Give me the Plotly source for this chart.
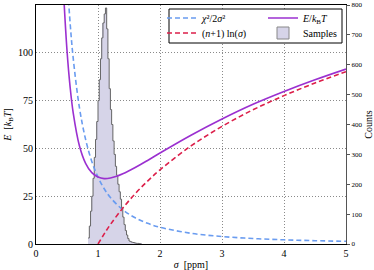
import plotly.graph_objects as go

# ---- data ----
sigma_blue = [0.50, 0.55, 0.60, 0.70, 0.80, 0.90, 1.00, 1.10, 1.20, 1.40, 1.60, 1.80,
              2.00, 2.50, 3.00, 3.50, 4.00, 4.50, 5.00]
chi2_term = [140.0, 115.7, 97.2, 71.4, 54.7, 43.2, 35.0, 28.9, 24.3, 17.9, 13.7, 10.8,
             8.75, 5.6, 3.9, 2.86, 2.19, 1.73, 1.4]

sigma_red = [1.00, 1.10, 1.20, 1.40, 1.60, 1.80, 2.00, 2.50, 3.00, 3.50, 4.00, 4.50, 5.00]
log_term = [0.0, 5.3, 10.2, 18.8, 26.3, 32.9, 38.8, 51.3, 61.5, 70.2, 77.6, 84.2, 90.1]

sigma_E = [0.45, 0.50, 0.55, 0.60, 0.70, 0.80, 0.90, 1.00, 1.10, 1.20, 1.30, 1.40, 1.60,
           1.80, 2.00, 2.50, 3.00, 3.50, 4.00, 4.50, 5.00]
energy = [128.1, 101.2, 82.2, 68.6, 51.4, 42.2, 37.3, 35.0, 34.2, 34.5, 35.4, 36.7, 40.0,
          43.7, 47.6, 56.9, 65.4, 73.1, 79.8, 85.9, 91.5]

bin_edges = [0.84, 0.86, 0.88, 0.90, 0.92, 0.94, 0.96, 0.98, 1.00, 1.02, 1.04, 1.06, 1.08,
             1.10, 1.12, 1.14, 1.16, 1.18, 1.20, 1.22, 1.24, 1.26, 1.28, 1.30, 1.32, 1.34,
             1.36, 1.38, 1.40, 1.42, 1.44, 1.46, 1.48, 1.50, 1.52, 1.54, 1.56, 1.58, 1.60,
             1.62, 1.64, 1.66, 1.68, 1.70]
counts = [20, 60, 110, 160, 220, 290, 350, 410, 480, 550, 620, 690, 740,
          770, 790, 720, 620, 520, 450, 400, 345, 300, 260, 230, 200, 175,
          150, 120, 90, 65, 45, 30, 18, 10, 8, 6, 5, 4, 3,
          2, 2, 1, 1]

xticks = [0, 1, 2, 3, 4, 5]
yticks = [0, 25, 50, 75, 100, 125]
y2ticks = [0, 100, 200, 300, 400, 500, 600, 700, 800]

FONT = "Liberation Serif"
GRID = "#8a8a8a"
HIST_FILL = "#d6d4e8"
HIST_EDGE = "#666666"

fig = go.Figure()

# histogram: filled bars (counts axis) + step outline
widths = [b - a for a, b in zip(bin_edges[:-1], bin_edges[1:])]
fig.add_trace(go.Bar(
    x=bin_edges[:-1], y=counts, width=widths, offset=0, yaxis="y",
    marker=dict(color=HIST_FILL, line=dict(width=0)), showlegend=False,
))
fig.add_trace(go.Scatter(
    x=bin_edges, y=counts + [counts[-1]], yaxis="y", mode="lines",
    line=dict(shape="hv", color=HIST_EDGE, width=1), showlegend=False,
))
# legend entry for the histogram (no drawn data)
fig.add_trace(go.Bar(
    x=[None], y=[None], yaxis="y", name="Samples", legend="legend4", showlegend=True,
    marker=dict(color=HIST_FILL, line=dict(color="#888888", width=1)),
))

fig.add_trace(go.Scatter(
    x=sigma_blue, y=chi2_term, yaxis="y2", mode="lines", name="<i>χ</i>²/2<i>σ</i>²",
    line=dict(color="#6a9cf0", width=1.6, dash="5px,3px", shape="spline"),
    legend="legend",
))
fig.add_trace(go.Scatter(
    x=sigma_red, y=log_term, yaxis="y2", mode="lines", name="(<i>n</i>+1) ln(<i>σ</i>)",
    line=dict(color="#dc1f4a", width=1.6, dash="5px,3px", shape="spline"),
    legend="legend2",
))
fig.add_trace(go.Scatter(
    x=sigma_E, y=energy, yaxis="y2", mode="lines",
    name="<i>E</i>/<i>k</i><sub>B</sub><i>T</i>",
    line=dict(color="#9b30d0", width=1.6, shape="spline"),
    legend="legend3",
))

x0p = (169 - 36) / 310
x1p = (342 - 36) / 310
y1p = (244 - 9) / 239
y0p = (244 - 43) / 239
row1 = (244 - 18) / 239
row2 = (244 - 33) / 239
col1 = (162 - 36) / 310
col2 = (263 - 36) / 310


def leg(x, y):
    return dict(x=x, y=y, xanchor="left", yanchor="middle", bgcolor="rgba(0,0,0,0)",
                borderwidth=0, font=dict(size=10), itemwidth=30)


fig.update_layout(
    width=374, height=270,
    margin=dict(l=36, r=28, t=5, b=26, autoexpand=False),
    paper_bgcolor="white", plot_bgcolor="white",
    font=dict(family=FONT, size=10, color="black"),
    showlegend=True, barmode="overlay", bargap=0,
    xaxis=dict(range=[0, 5], tickvals=xticks, showline=True, linecolor="black",
               linewidth=1, mirror=True, ticks="", showgrid=True, gridcolor=GRID,
               griddash="1px,2px", gridwidth=1, zeroline=False, automargin=False,
               title=dict(text="<i>σ</i>  [ppm]", standoff=3, font=dict(size=10)),
               tickfont=dict(size=10)),
    yaxis2=dict(range=[0, 125], tickvals=yticks, showline=True, linecolor="black",
                linewidth=1, ticks="", showgrid=True, gridcolor=GRID, side="left",
                overlaying="y",
                griddash="1px,2px", gridwidth=1, zeroline=False, automargin=False,
                title=dict(text="<i>E</i>  [<i>k</i><sub>B</sub><i>T</i>]", standoff=4,
                           font=dict(size=10)),
                tickfont=dict(size=10)),
    yaxis=dict(range=[0, 800], tickvals=y2ticks, side="right",
               showline=True, linecolor="#555555", linewidth=1, ticks="outside",
               ticklen=3, tickcolor="#555555", showgrid=False, zeroline=False,
               automargin=False,
               tickfont=dict(size=7), title=dict(text="Counts", standoff=6,
                                                 font=dict(size=10))),
    legend=leg(col1, row1),
    legend2=leg(col1, row2),
    legend3=leg(col2, row1),
    legend4=leg(col2, row2),
    shapes=[dict(type="rect", xref="paper", yref="paper", x0=x0p, x1=x1p, y0=y0p, y1=y1p,
                 line=dict(color="black", width=1), fillcolor="white", layer="above")],
)

fig.write_html("out.html", config={"displayModeBar": False},
               post_script="document.body.style.margin='0';")
